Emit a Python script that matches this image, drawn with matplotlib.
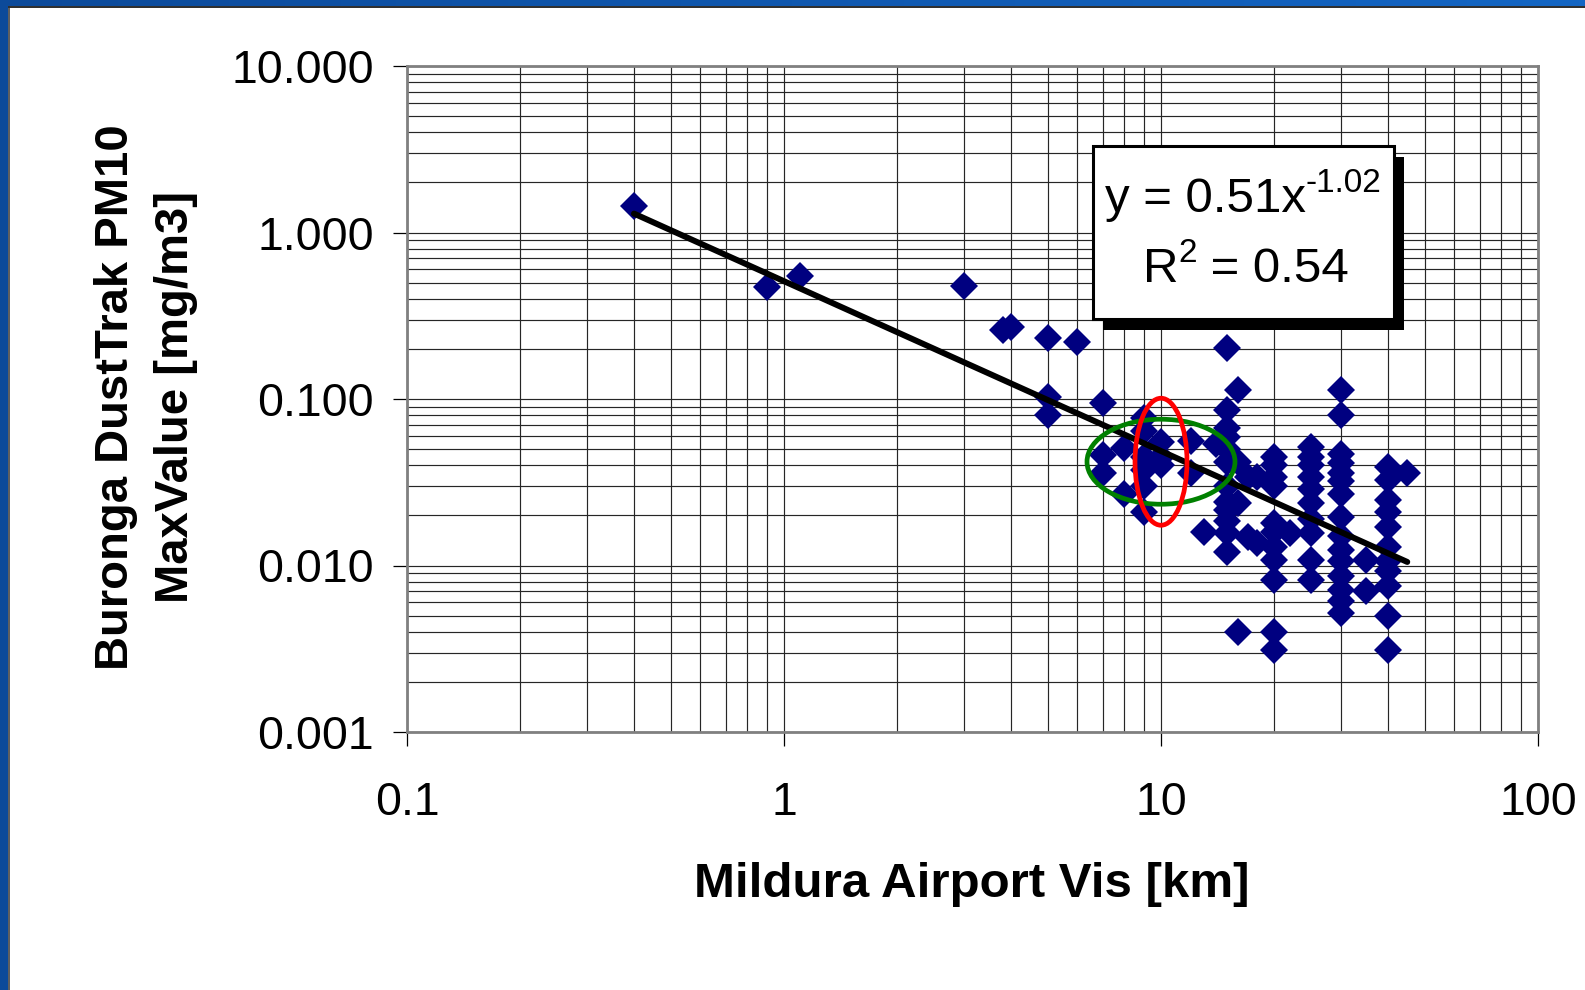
import numpy as np
import matplotlib
matplotlib.use('Agg')
import matplotlib.pyplot as plt
from matplotlib.patches import Ellipse, Rectangle
from matplotlib.ticker import FixedLocator, FixedFormatter, LogLocator, NullFormatter

plt.rcParams['font.family'] = ['Liberation Sans', 'DejaVu Sans']

# visibility at Mildura airport [km] vs Buronga DustTrak PM10 max [mg/m3]
vis_km = [0.4, 0.9, 1.1, 3, 3.8, 4,
          5, 5, 5, 6,
          7, 7, 7, 8, 8,
          9, 9, 9, 9, 9, 9,
          10, 10, 10, 12, 12, 13, 14,
          15, 15, 15, 15, 15, 15, 15, 15, 15, 15, 15, 15,
          16, 16, 16, 16, 17, 17, 18, 18,
          20, 20, 20, 20, 20, 20, 20, 20, 20, 20, 20,
          22,
          25, 25, 25, 25, 25, 25, 25, 25, 25, 25,
          30, 30, 30, 30, 30, 30, 30, 30, 30, 30, 30, 30, 30, 30, 30,
          35, 35,
          40, 40, 40, 40, 40, 40, 40, 40, 40, 40, 40,
          45]
pm10_max = [1.45, 0.47, 0.55, 0.48, 0.26, 0.27,
            0.232, 0.103, 0.080, 0.221,
            0.095, 0.046, 0.036, 0.051, 0.027,
            0.077, 0.064, 0.045, 0.0375, 0.030, 0.021,
            0.055, 0.045, 0.040, 0.056, 0.036, 0.0158, 0.054,
            0.202, 0.086, 0.067, 0.059, 0.050, 0.042, 0.030, 0.024, 0.0216, 0.0186, 0.0156, 0.0121,
            0.113, 0.042, 0.0236, 0.0040, 0.0149, 0.034, 0.034, 0.0136,
            0.045, 0.040, 0.034, 0.030, 0.0179, 0.0160, 0.013, 0.0108, 0.0082, 0.0040, 0.0031,
            0.0156,
            0.0517, 0.045, 0.040, 0.034, 0.029, 0.0236, 0.019, 0.0156, 0.0108, 0.0082,
            0.114, 0.080, 0.047, 0.041, 0.036, 0.032, 0.027, 0.0196, 0.015, 0.0124, 0.0107, 0.0086, 0.0071, 0.0061, 0.0052,
            0.0108, 0.0070,
            0.039, 0.0326, 0.0247, 0.021, 0.0171, 0.013, 0.0107, 0.0093, 0.0075, 0.0050, 0.0031,
            0.0358]

# power trendline as printed on the chart
fit_a = 0.51
fit_b = -1.02
fit_r2 = 0.54

x_ticks = [0.1, 1, 10, 100]
x_ticklabels = ['0.1', '1', '10', '100']
y_ticks = [0.001, 0.01, 0.1, 1, 10]
y_ticklabels = ['0.001', '0.010', '0.100', '1.000', '10.000']

# highlighted region (the two ellipses) around the 10 km / ~0.04 mg/m3 cluster
hl_center = (10, 0.042)

W, H = 1585, 990
fig = plt.figure(figsize=(W / 100, H / 100), dpi=100)
fig.patch.set_facecolor('white')
renderer = fig.canvas.get_renderer()

ax = fig.add_axes([407 / W, 1 - 732 / H, 1131 / W, 666 / H])
ax.set_xscale('log')
ax.set_yscale('log')
ax.set_xlim(0.1, 100)
ax.set_ylim(0.001, 10)

ax.xaxis.set_major_locator(FixedLocator(x_ticks))
ax.xaxis.set_major_formatter(FixedFormatter(x_ticklabels))
ax.yaxis.set_major_locator(FixedLocator(y_ticks))
ax.yaxis.set_major_formatter(FixedFormatter(y_ticklabels))
ax.xaxis.set_minor_locator(LogLocator(base=10, subs=np.arange(2, 10)))
ax.yaxis.set_minor_locator(LogLocator(base=10, subs=np.arange(2, 10)))
ax.xaxis.set_minor_formatter(NullFormatter())
ax.yaxis.set_minor_formatter(NullFormatter())

ax.grid(True, which='both', color='#262626', lw=0.85, zorder=0)
ax.set_axisbelow(True)
ax.tick_params(which='major', direction='out', length=10, width=0.9, color='black',
               labelsize=33.5)
ax.tick_params(axis='y', which='major', pad=14)
ax.tick_params(axis='x', which='major', pad=25)
ax.tick_params(which='minor', length=0)
for s in ax.spines.values():
    s.set_color('#808080')
    s.set_linewidth(2)

ax.plot(vis_km, pm10_max, ls='none', marker='D', ms=13.8, mew=0, color='#000080', zorder=3)

tx = np.array([min(vis_km), max(vis_km)])
ax.plot(tx, fit_a * tx ** fit_b, color='black', lw=4.3, solid_capstyle='round', zorder=4)

# ellipses drawn in pixel size around the cluster centre
cx, cy = fig.transFigure.inverted().transform(ax.transData.transform(hl_center))
ax.add_artist(Ellipse((cx, cy), 148 / W, 85 / H, transform=fig.transFigure,
                      fill=False, ec='#008000', lw=3.4, zorder=5))
ax.add_artist(Ellipse((cx, cy), 52 / W, 127 / H, transform=fig.transFigure,
                      fill=False, ec='#ff0000', lw=3.4, zorder=6))

# equation box with shadow
bx0, by0, bw, bh = 1093, 319, 301, 173
fig.patches.append(Rectangle(((bx0 + 10) / W, 1 - (by0 + 11) / H), bw / W, bh / H,
                             transform=fig.transFigure, fc='black', ec='none', zorder=10))
fig.patches.append(Rectangle((bx0 / W, 1 - by0 / H), bw / W, bh / H,
                             transform=fig.transFigure, fc='white', ec='black', lw=2.2, zorder=11))


def line_with_sup(xc, yb, parts, size=35.5, sup_size=24, rise=20):
    # parts: list of (text, is_superscript); line centred at xc px, baseline yb px from top
    texts = []
    for s, sup in parts:
        y = yb - rise if sup else yb
        t = fig.text(0, 1 - y / H, s, fontsize=sup_size if sup else size,
                     ha='left', va='baseline', zorder=12)
        texts.append(t)
    widths = [t.get_window_extent(renderer).width for t in texts]
    x = xc - sum(widths) / 2
    for t, w in zip(texts, widths):
        t.set_x(x / W)
        x += w


line_with_sup(1243, 212, [('y = %.2fx' % fit_a, False), ('%.2f' % fit_b, True)])
line_with_sup(1246, 282, [('R', False), ('2', True), (' = %.2f' % fit_r2, False)])

# axis titles
fig.text(972 / W, 1 - 897 / H, 'Mildura Airport Vis [km]', fontsize=35.5, fontweight='bold',
         ha='center', va='baseline')
fig.text(146 / W, 1 - 397 / H, 'Buronga DustTrak PM10\nMaxValue [mg/m3]', fontsize=34,
         fontweight='bold', rotation=90, ha='center', va='center', multialignment='center',
         linespacing=1.45)

# blue slide frame
grad = np.linspace(0, 1, 256).reshape(1, -1)
top = fig.add_axes([0, 1 - 6 / H, 1, 6 / H])
top.imshow(grad, aspect='auto', cmap=matplotlib.colors.LinearSegmentedColormap.from_list(
    'b', ['#0c4a9a', '#1466c4']), extent=[0, 1, 0, 1])
top.axis('off')
fig.patches.append(Rectangle((0, 0), 8 / W, 1, transform=fig.transFigure,
                             fc='#0c4a9a', ec='none', zorder=20))
fig.patches.append(Rectangle((8 / W, 0), 1.5 / W, 1 - 6 / H, transform=fig.transFigure,
                             fc='#606060', ec='none', zorder=20))
fig.patches.append(Rectangle((8 / W, 1 - 7.5 / H), 1 - 8 / W, 1.5 / H, transform=fig.transFigure,
                             fc='#303030', ec='none', zorder=20))

fig.savefig('out.png', dpi=100, facecolor='white')
